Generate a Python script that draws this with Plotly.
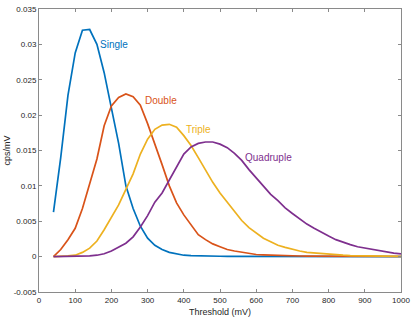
import plotly.graph_objects as go

threshold_mv = [40, 60, 80, 100, 120, 140, 160, 180, 200, 220, 240, 260, 280, 300, 320, 340, 360, 380, 400,
                420, 440, 460, 480, 500, 520, 540, 560, 580, 600, 620, 640, 660, 680, 700, 720, 740, 760, 780,
                800, 820, 840, 860, 880, 900, 920, 940, 960, 980, 1000]

single = [0.0063, 0.0140, 0.0228, 0.0288, 0.0320, 0.0321, 0.0300, 0.0260, 0.0210, 0.0160, 0.0100, 0.0068,
          0.0043, 0.0026, 0.0016, 0.0010, 0.0006, 0.0004, 0.0002, 0.00015, 0.0001, 0.00008, 0.00006, 0.00005,
          0.00004, 0.00004, 0.00003, 0.00003, 0.00003, 0.00002, 0.00002, 0.00002, 0.00002, 0.00002, 0.00001,
          0.00001, 0.00001, 0.00001, 0.00001, 0.00001, 0.00001, 0.00001, 0.00001, 0.00001, 0.00001, 0.00001,
          0.00001, 0.00001, 0.00001]

double = [0.0000, 0.0010, 0.0024, 0.0040, 0.0068, 0.0104, 0.0138, 0.0185, 0.0213, 0.0225, 0.0230, 0.0226,
          0.0214, 0.0188, 0.0160, 0.0130, 0.0100, 0.0076, 0.0059, 0.0045, 0.0031, 0.0024, 0.0018, 0.0014,
          0.0010, 0.0008, 0.0006, 0.0004, 0.0003, 0.00025, 0.0002, 0.00015, 0.00012, 0.0001, 0.00009, 0.00008,
          0.00007, 0.00006, 0.00005, 0.00005, 0.00004, 0.00004, 0.00003, 0.00003, 0.00003, 0.00002, 0.00002,
          0.00002, 0.00002]

triple = [0.0000, 0.0000, 0.0001, 0.0002, 0.0006, 0.0012, 0.0022, 0.0038, 0.0056, 0.0073, 0.0095, 0.0117,
          0.0145, 0.0166, 0.0180, 0.0186, 0.0187, 0.0183, 0.0171, 0.0157, 0.0140, 0.0122, 0.0105, 0.0090,
          0.0077, 0.0063, 0.0051, 0.0041, 0.0033, 0.0026, 0.0021, 0.0016, 0.0013, 0.0010, 0.0008, 0.0006,
          0.0005, 0.0004, 0.0003, 0.00025, 0.0002, 0.00015, 0.00012, 0.0001, 0.00008, 0.00006, 0.00005,
          0.00004, 0.00003]

quadruple = [0.0000, 0.0000, 0.0000, 0.00002, 0.00005, 0.0001, 0.0002, 0.0004, 0.0008, 0.0013, 0.0019, 0.0028,
             0.0042, 0.0058, 0.0077, 0.0090, 0.0108, 0.0125, 0.0145, 0.0155, 0.0160, 0.0162, 0.0162, 0.0159,
             0.0154, 0.0146, 0.0136, 0.0123, 0.0111, 0.0099, 0.0088, 0.0079, 0.0069, 0.0061, 0.0053, 0.0046,
             0.0040, 0.0034, 0.0029, 0.0024, 0.0020, 0.0017, 0.0014, 0.0012, 0.0010, 0.0008, 0.0006, 0.0005,
             0.0004]

series_names = ["Single", "Double", "Triple", "Quadruple"]
series_values = [single, double, triple, quadruple]
series_colors = ["#0072BD", "#D95319", "#EDB120", "#7E2F8E"]
label_x = [164, 286, 401, 564]
label_y = [0.0300, 0.0220, 0.0180, 0.0140]

x_ticks = [0, 100, 200, 300, 400, 500, 600, 700, 800, 900, 1000]
y_ticks = [-0.005, 0, 0.005, 0.01, 0.015, 0.02, 0.025, 0.03, 0.035]
y_tick_labels = ["-0.005", "0", "0.005", "0.01", "0.015", "0.02", "0.025", "0.03", "0.035"]

FONT = "Liberation Sans, Arial, Helvetica, sans-serif"
AX = "#8a8a8a"
TXT = "#262626"

fig = go.Figure()
for name, vals, col in zip(series_names, series_values, series_colors):
    fig.add_trace(go.Scatter(x=threshold_mv, y=vals, mode="lines", name=name,
                             line=dict(color=col, width=1.7), showlegend=False))

for name, lx, ly, col in zip(series_names, label_x, label_y, series_colors):
    fig.add_annotation(x=lx, y=ly, text=name, showarrow=False, xanchor="left", yanchor="middle",
                       font=dict(family=FONT, size=10, color=col))

fig.add_annotation(xref="paper", yref="paper", x=0.5, y=0, yanchor="middle", yshift=-20,
                   text="Threshold (mV)", showarrow=False, font=dict(family=FONT, size=9, color=TXT))
fig.add_annotation(xref="paper", yref="paper", x=0, y=0.5, xanchor="center", xshift=-33, textangle=-90,
                   text="cps/mV", showarrow=False, font=dict(family=FONT, size=9, color=TXT))

fig.update_xaxes(range=[0, 1000], tickvals=x_ticks, ticks="inside", ticklen=3, tickcolor=AX,
                 showline=True, linecolor=AX, linewidth=1, mirror="ticks", showgrid=False, zeroline=False,
                 tickfont=dict(family=FONT, size=8, color=TXT))
fig.update_yaxes(range=[-0.005, 0.035], tickvals=y_ticks, ticktext=y_tick_labels, ticks="inside", ticklen=3,
                 tickcolor=AX, showline=True, linecolor=AX, linewidth=1, mirror="ticks", showgrid=False,
                 zeroline=False, tickfont=dict(family=FONT, size=8, color=TXT))

fig.update_layout(width=415, height=319, margin=dict(l=39, r=10, t=5, b=27),
                  plot_bgcolor="white", paper_bgcolor="white", font=dict(family=FONT))

fig.write_html("out.html", config={"displayModeBar": False},
               post_script="document.body.style.margin='0px';document.body.style.overflow='hidden';")
